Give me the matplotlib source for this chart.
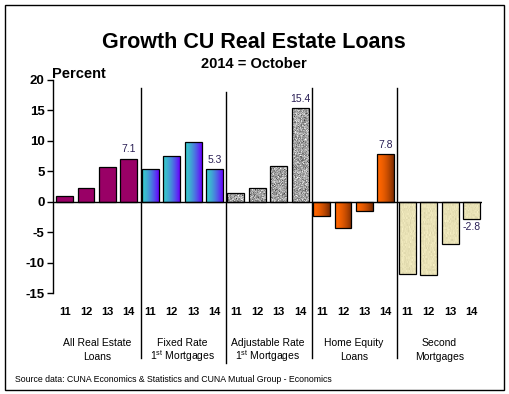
import matplotlib.pyplot as plt
import matplotlib as mpl
import matplotlib.patches as mpatches
import matplotlib.colors as mcolors
import numpy as np

plt.rcParams['font.family'] = ['Liberation Sans', 'DejaVu Sans']
plt.rcParams.update({'axes.unicode_minus': False, 'mathtext.fontset': 'custom',
                     'mathtext.rm': 'Liberation Sans', 'mathtext.it': 'Liberation Sans'})

# --------------------------------------------------------------
years = ['11', '12', '13', '14']
group_line1 = ['All Real Estate', 'Fixed Rate', 'Adjustable Rate', 'Home Equity', 'Second']
group_line2 = ['Loans', '1$^{\\rm st}$ Mortgages', '1$^{\\rm st}$ Mortgages', 'Loans', 'Mortgages']
all_re = [1.0, 2.2, 5.7, 7.1]
fixed_rate = [5.3, 7.5, 9.8, 5.3]
adj_rate = [1.5, 2.2, 5.9, 15.4]
home_eq = [-2.4, -4.4, -1.6, 7.8]
second_mtg = [-11.8, -12.1, -7.0, -2.8]
series = [all_re, fixed_rate, adj_rate, home_eq, second_mtg]
labelled = {3: '7.1', 7: '5.3', 11: '15.4', 15: '7.8', 19: '-2.8'}

rng = np.random.default_rng(3)


def gradient_fill(ax, bar, c0, c1, power=1.0):
    t = np.linspace(0, 1, 64) ** power
    a, b = np.array(mcolors.to_rgb(c0)), np.array(mcolors.to_rgb(c1))
    img = (a[None, :] * (1 - t[:, None]) + b[None, :] * t[:, None])[None, :, :]
    x0, y0 = bar.get_x(), bar.get_y()
    im = ax.imshow(img, extent=[x0, x0 + bar.get_width(), y0, y0 + bar.get_height()],
                   aspect='auto', zorder=2, interpolation='bilinear')
    im.set_clip_path(bar)


def texture_fill(ax, bar, base, spread, ny=80):
    b = np.array(mcolors.to_rgb(base))
    n = rng.normal(0, spread, (ny, 34))
    img = np.clip(b[None, None, :] + n[:, :, None], 0, 1)
    y0, h = bar.get_y(), bar.get_height()
    x0 = bar.get_x()
    im = ax.imshow(img, extent=[x0, x0 + bar.get_width(), min(y0, y0 + h), max(y0, y0 + h)],
                   aspect='auto', zorder=2, interpolation='nearest')
    im.set_clip_path(bar)


def makeplot():
    fig = plt.figure(figsize=(5.1, 3.94), dpi=100)
    ax = fig.add_axes([53/510, 1 - 293/394, 429/510, 213/394])

    ax.set_xlim(-0.54, 19.49)
    ax.set_ylim(-15, 20)

    xs = np.arange(20)
    vals = [v for s in series for v in s]
    bars = ax.bar(xs, vals, width=0.79, facecolor='none', edgecolor='black',
                  linewidth=0.9, zorder=3)
    for i, b in enumerate(bars):
        g = i // 4
        if g == 0:
            b.set_facecolor('#990066')
        elif g == 1:
            gradient_fill(ax, b, '#38C8CC', '#6600FF', power=1.6)
        elif g == 2:
            texture_fill(ax, b, '#A4A4A4', 0.12, ny=int(abs(vals[i])*12) + 8)
        elif g == 3:
            gradient_fill(ax, b, '#FF6600', '#7A2A00', power=1.8)
        else:
            texture_fill(ax, b, '#E9E2B6', 0.02, ny=int(abs(vals[i])*3) + 4)

    for i, txt in labelled.items():
        v = vals[i]
        if v >= 0:
            ax.text(xs[i], v + 0.7, txt, ha='center', va='bottom', fontsize=7.5,
                    color='#2A1F55')
        else:
            ax.text(xs[i], v - 0.6, txt, ha='center', va='top', fontsize=7.5,
                    color='#2A1F55')

    ax.axhline(0, color='black', linewidth=1.0, zorder=4)

    # group dividers
    tops = [0.962, 0.944, 0.962, 0.962]
    bots = [-0.305, -0.329, -0.305, -0.305]
    for k, xd in enumerate([3.56, 7.55, 11.55, 15.53]):
        ax.axvline(xd, ymin=bots[k], ymax=tops[k], color='black', linewidth=1.0,
                   clip_on=False, zorder=4)

    for sp in ['top', 'right', 'bottom']:
        ax.spines[sp].set_visible(False)
    ax.spines['left'].set_linewidth(1.0)

    ax.set_yticks(np.arange(-15, 25, 5))
    ax.tick_params(axis='y', direction='out', length=4, width=1.0, labelsize=9.5, pad=2)
    for lab in ax.get_yticklabels():
        lab.set_fontweight('bold')
    ax.set_xticks(xs, years * 5)
    ax.tick_params(axis='x', length=0, labelsize=8, pad=10)
    for lab in ax.get_xticklabels():
        lab.set_fontweight('bold')

    tr = mpl.transforms.blended_transform_factory(ax.transData, fig.transFigure)
    for g in range(5):
        cx = 4*g + 1.5
        ax.text(cx, 1 - 346.5/394, group_line1[g], transform=tr,
                ha='center', va='baseline', fontsize=7.5)
        ax.text(cx, 1 - 359.5/394, group_line2[g], transform=tr,
                ha='center', va='baseline', fontsize=7.5)

    fig.text(254/510, 1 - 43/394, 'Growth CU Real Estate Loans', ha='center', va='center',
             fontsize=15.5, fontweight='bold')
    fig.text(254/510, 1 - 64/394, '2014 = October', ha='center', va='center',
             fontsize=10.5, fontweight='bold')
    fig.text(52/510, 1 - 74/394, 'Percent', ha='left', va='center',
             fontsize=10.5, fontweight='bold')
    fig.text(15/510, 1 - 380/394,
             'Source data: CUNA Economics & Statistics and CUNA Mutual Group - Economics',
             ha='left', va='center', fontsize=6.3)

    fig.patches.append(mpatches.Rectangle((5/510, 1 - 390/394), 499/510, 385/394,
                                          transform=fig.transFigure, fill=False,
                                          edgecolor='black', linewidth=1.0))

    plt.savefig('out.png', dpi=100)

makeplot()
